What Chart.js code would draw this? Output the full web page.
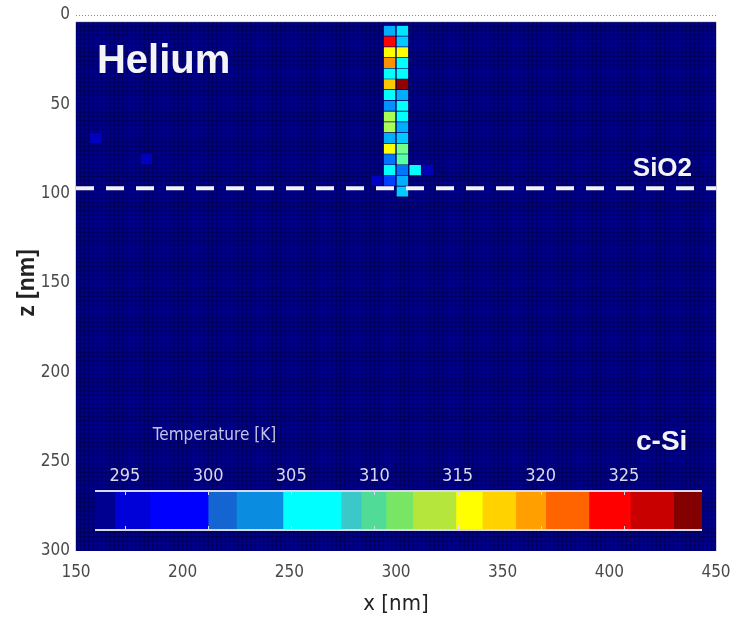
<!DOCTYPE html>
<html>
<head>
<meta charset="utf-8">
<script src="https://cdn.jsdelivr.net/npm/chart.js@4.4.1/dist/chart.umd.min.js"></script>
<style>
    html, body { margin: 0; padding: 0; background: #fff; }
    #wrap { position: relative; width: 732px; height: 626px; }
    #main { position: absolute; left: 0; top: 0; }
    #cbar { position: absolute; left: 95px; top: 455px; }
</style>
</head>
<body>
<div id="wrap">
    <canvas id="main" width="732" height="626"></canvas>
    <canvas id="cbar" width="607" height="76"></canvas>
</div>
<script>
// axes (nm)
const xRange = [150, 450];
const zRange = [0, 300];
const xTicks = [150, 200, 250, 300, 350, 400, 450];
const zTicks = [0, 50, 100, 150, 200, 250, 300];

// simulation grid
const gridX = [150, 450];
const gridZ = [4, 300];
const cellSize = 6;
const baseT = 293.6; // background temperature [K]

// hot column, row tops (nm) and temperatures per column [K]
const rowTop = [6, 12, 18, 24, 30, 36, 42, 48, 54, 60, 66, 72, 78, 84, 90, 96];
const colX = [297, 303, 309];
const colA = [304, 325, 316, 320, 307, 318, 307, 303, 313, 313, 304, 316, 302, 307, 300, null];
const colB = [306, 305, 316, 307, 307, 329, 304, 307, 307, 304, 305, 311, 310, 302, 304, 305];
const colC = [null, null, null, null, null, null, null, null, null, null, null, null, null, 307, null, null];

// a few slightly warm cells
const spotX = [159, 183, 291, 315];
const spotZ = [66, 78, 90, 84];
const spotT = [295.5, 295.5, 295.5, 295.2];

// SiO2 / c-Si interface
const interfaceZ = 97;

// colorbar
const tRange = [293.2, 329.7];
const cbTicks = [295, 300, 305, 310, 315, 320, 325];
const cbEdges = [293.2, 294.4, 296.5, 300.0, 301.7, 304.5, 308.0, 309.2, 310.7, 312.3, 314.9, 316.5, 318.5, 320.3, 322.9, 325.4, 328.0, 329.7];
const cbColors = ['#000090', '#0000d8', '#0000ff', '#1464d2', '#0a8ce0', '#00ffff', '#3cc8c8',
                  '#50dc96', '#78e664', '#b4e63c', '#ffff00', '#ffd200', '#ffa000', '#ff6400',
                  '#ff0000', '#c80000', '#820000'];

const narrow = "'Liberation Sans Narrow', 'DejaVu Sans Condensed', 'Liberation Sans', sans-serif";
const bold = "'Liberation Sans', Arial, sans-serif";

function clamp(v) { return Math.min(1, Math.max(0, v)); }

// jet colormap
function jet(t) {
    const v = clamp((t - tRange[0]) / (tRange[1] - tRange[0]));
    const r = clamp(1.5 - Math.abs(4 * v - 3));
    const g = clamp(1.5 - Math.abs(4 * v - 2));
    const b = clamp(1.5 - Math.abs(4 * v - 1));
    return 'rgb(' + Math.round(r * 255) + ',' + Math.round(g * 255) + ',' + Math.round(b * 255) + ')';
}

// build cells
const cellData = [];
const cellColors = [];
[colA, colB, colC].forEach((col, c) => {
    col.forEach((t, r) => {
        if (t === null) return;
        cellData.push({x: colX[c], y: [rowTop[r], rowTop[r] + cellSize]});
        cellColors.push(jet(t));
    });
});
spotT.forEach((t, i) => {
    cellData.push({x: spotX[i], y: [spotZ[i], spotZ[i] + cellSize]});
    cellColors.push(jet(t));
});

// background field + mesh
const heatBackground = {
    id: 'heatBackground',
    beforeDatasetsDraw(chart) {
        const {ctx, scales: {x, y}} = chart;
        const left = x.getPixelForValue(gridX[0]);
        const right = x.getPixelForValue(gridX[1]);
        const top = y.getPixelForValue(gridZ[0]);
        const bottom = y.getPixelForValue(gridZ[1]);
        ctx.save();
        ctx.fillStyle = jet(baseT);
        ctx.fillRect(left, top, right - left, bottom - top);
        ctx.strokeStyle = 'rgba(0,0,25,0.38)';
        ctx.lineWidth = 1;
        ctx.beginPath();
        for (let v = gridX[0]; v <= gridX[1]; v += 2) {
            const px = x.getPixelForValue(v);
            ctx.moveTo(px, top);
            ctx.lineTo(px, bottom);
        }
        for (let v = gridZ[0]; v <= gridZ[1]; v += 2.4) {
            const py = y.getPixelForValue(v);
            ctx.moveTo(left, py);
            ctx.lineTo(right, py);
        }
        ctx.stroke();

        // dotted top frame
        const y0 = Math.round(y.getPixelForValue(zRange[0])) + 0.5;
        ctx.strokeStyle = '#8a8a90';
        ctx.setLineDash([1, 2]);
        ctx.beginPath();
        ctx.moveTo(left, y0);
        ctx.lineTo(right, y0);
        ctx.stroke();
        ctx.restore();
    }
};

// labels inside the plot
const annotations = {
    id: 'annotations',
    afterDatasetsDraw(chart) {
        const {ctx, scales: {x, y}} = chart;
        ctx.save();
        ctx.textBaseline = 'alphabetic';
        ctx.textAlign = 'left';
        ctx.fillStyle = '#f4f4f8';
        ctx.font = 'bold 40px ' + bold;
        ctx.fillText('Helium', x.getPixelForValue(159.8), y.getPixelForValue(32.5));
        ctx.font = 'bold 26px ' + bold;
        ctx.fillText('SiO2', x.getPixelForValue(411), y.getPixelForValue(90));
        ctx.font = 'bold 28px ' + bold;
        ctx.fillText('c-Si', x.getPixelForValue(412.5), y.getPixelForValue(243.5));
        ctx.font = '17px ' + narrow;
        ctx.fillStyle = '#c4c4e2';
        ctx.textBaseline = 'middle';
        ctx.fillText('Temperature [K]', x.getPixelForValue(186), y.getPixelForValue(235.6));
        ctx.restore();
    }
};

new Chart(document.getElementById('main'), {
    type: 'bar',
    data: {
        datasets: [
            {
                label: 'cells',
                data: cellData,
                backgroundColor: cellColors,
                borderColor: 'rgba(0,0,70,0.55)',
                borderWidth: 1,
                barPercentage: 1,
                categoryPercentage: 1,
                order: 2
            },
            {
                type: 'line',
                label: 'interface',
                data: [{x: xRange[0], y: interfaceZ}, {x: xRange[1], y: interfaceZ}],
                borderColor: '#f2f2f8',
                borderWidth: 4,
                borderDash: [18, 12],
                pointRadius: 0,
                order: 1
            }
        ]
    },
    options: {
        responsive: false,
        animation: false,
        layout: {padding: {top: 15, right: 16, bottom: 0, left: 0}},
        plugins: {legend: {display: false}, tooltip: {enabled: false}},
        scales: {
            x: {
                type: 'linear',
                offset: false,
                min: xRange[0],
                max: xRange[1],
                afterBuildTicks: (s) => { s.ticks = xTicks.map(v => ({value: v})); },
                afterFit: (s) => { s.height = 75; s.paddingLeft = 0; s.paddingRight = 0; },
                grid: {display: false, drawTicks: false, offset: false},
                border: {display: false},
                ticks: {color: '#4a4a4a', font: {family: narrow, size: 17}, padding: 11, maxRotation: 0},
                title: {display: true, text: 'x [nm]', color: '#222', font: {family: narrow, size: 22}, padding: {top: 0, bottom: 9}}
            },
            y: {
                type: 'linear',
                min: zRange[0],
                max: zRange[1],
                reverse: true,
                afterBuildTicks: (s) => { s.ticks = zTicks.map(v => ({value: v})); },
                afterFit: (s) => { s.width = 76; s.paddingTop = 0; s.paddingBottom = 0; },
                grid: {display: false, drawTicks: false},
                border: {display: false},
                ticks: {color: '#4a4a4a', font: {family: narrow, size: 17}, padding: 6},
                title: {display: true, text: 'z [nm]', color: '#222', font: {family: bold, size: 23, weight: 'bold'}, padding: {top: 14, bottom: 0}}
            }
        }
    },
    plugins: [heatBackground, annotations]
});

// colorbar frame and inward ticks
const cbFrame = {
    id: 'cbFrame',
    afterDraw(chart) {
        const {ctx, chartArea: a, scales: {x}} = chart;
        ctx.save();
        ctx.strokeStyle = '#d8d8ee';
        ctx.lineWidth = 2;
        ctx.beginPath();
        ctx.moveTo(a.left, a.top + 1);
        ctx.lineTo(a.right, a.top + 1);
        ctx.moveTo(a.left, a.bottom - 1);
        ctx.lineTo(a.right, a.bottom - 1);
        ctx.stroke();
        ctx.lineWidth = 1;
        ctx.beginPath();
        cbTicks.forEach(v => {
            const px = Math.round(x.getPixelForValue(v)) + 0.5;
            ctx.moveTo(px, a.top);
            ctx.lineTo(px, a.top + 5);
            ctx.moveTo(px, a.bottom);
            ctx.lineTo(px, a.bottom - 5);
        });
        ctx.stroke();
        ctx.restore();
    }
};

new Chart(document.getElementById('cbar'), {
    type: 'bar',
    data: {
        labels: ['T'],
        datasets: cbColors.map((c, i) => ({
            data: [[cbEdges[i], cbEdges[i + 1]]],
            backgroundColor: c,
            grouped: false,
            barPercentage: 1,
            categoryPercentage: 1,
            borderWidth: 0
        }))
    },
    options: {
        indexAxis: 'y',
        responsive: false,
        animation: false,
        layout: {padding: 0},
        plugins: {legend: {display: false}, tooltip: {enabled: false}},
        scales: {
            x: {
                type: 'linear',
                position: 'top',
                min: tRange[0],
                max: tRange[1],
                afterBuildTicks: (s) => { s.ticks = cbTicks.map(v => ({value: v})); },
                afterFit: (s) => { s.height = 35; },
                grid: {display: false, drawTicks: false},
                border: {display: false},
                ticks: {color: '#d8d8f0', font: {family: narrow, size: 18}, padding: 3, maxRotation: 0}
            },
            y: {display: false}
        }
    },
    plugins: [cbFrame]
});
</script>
</body>
</html>
